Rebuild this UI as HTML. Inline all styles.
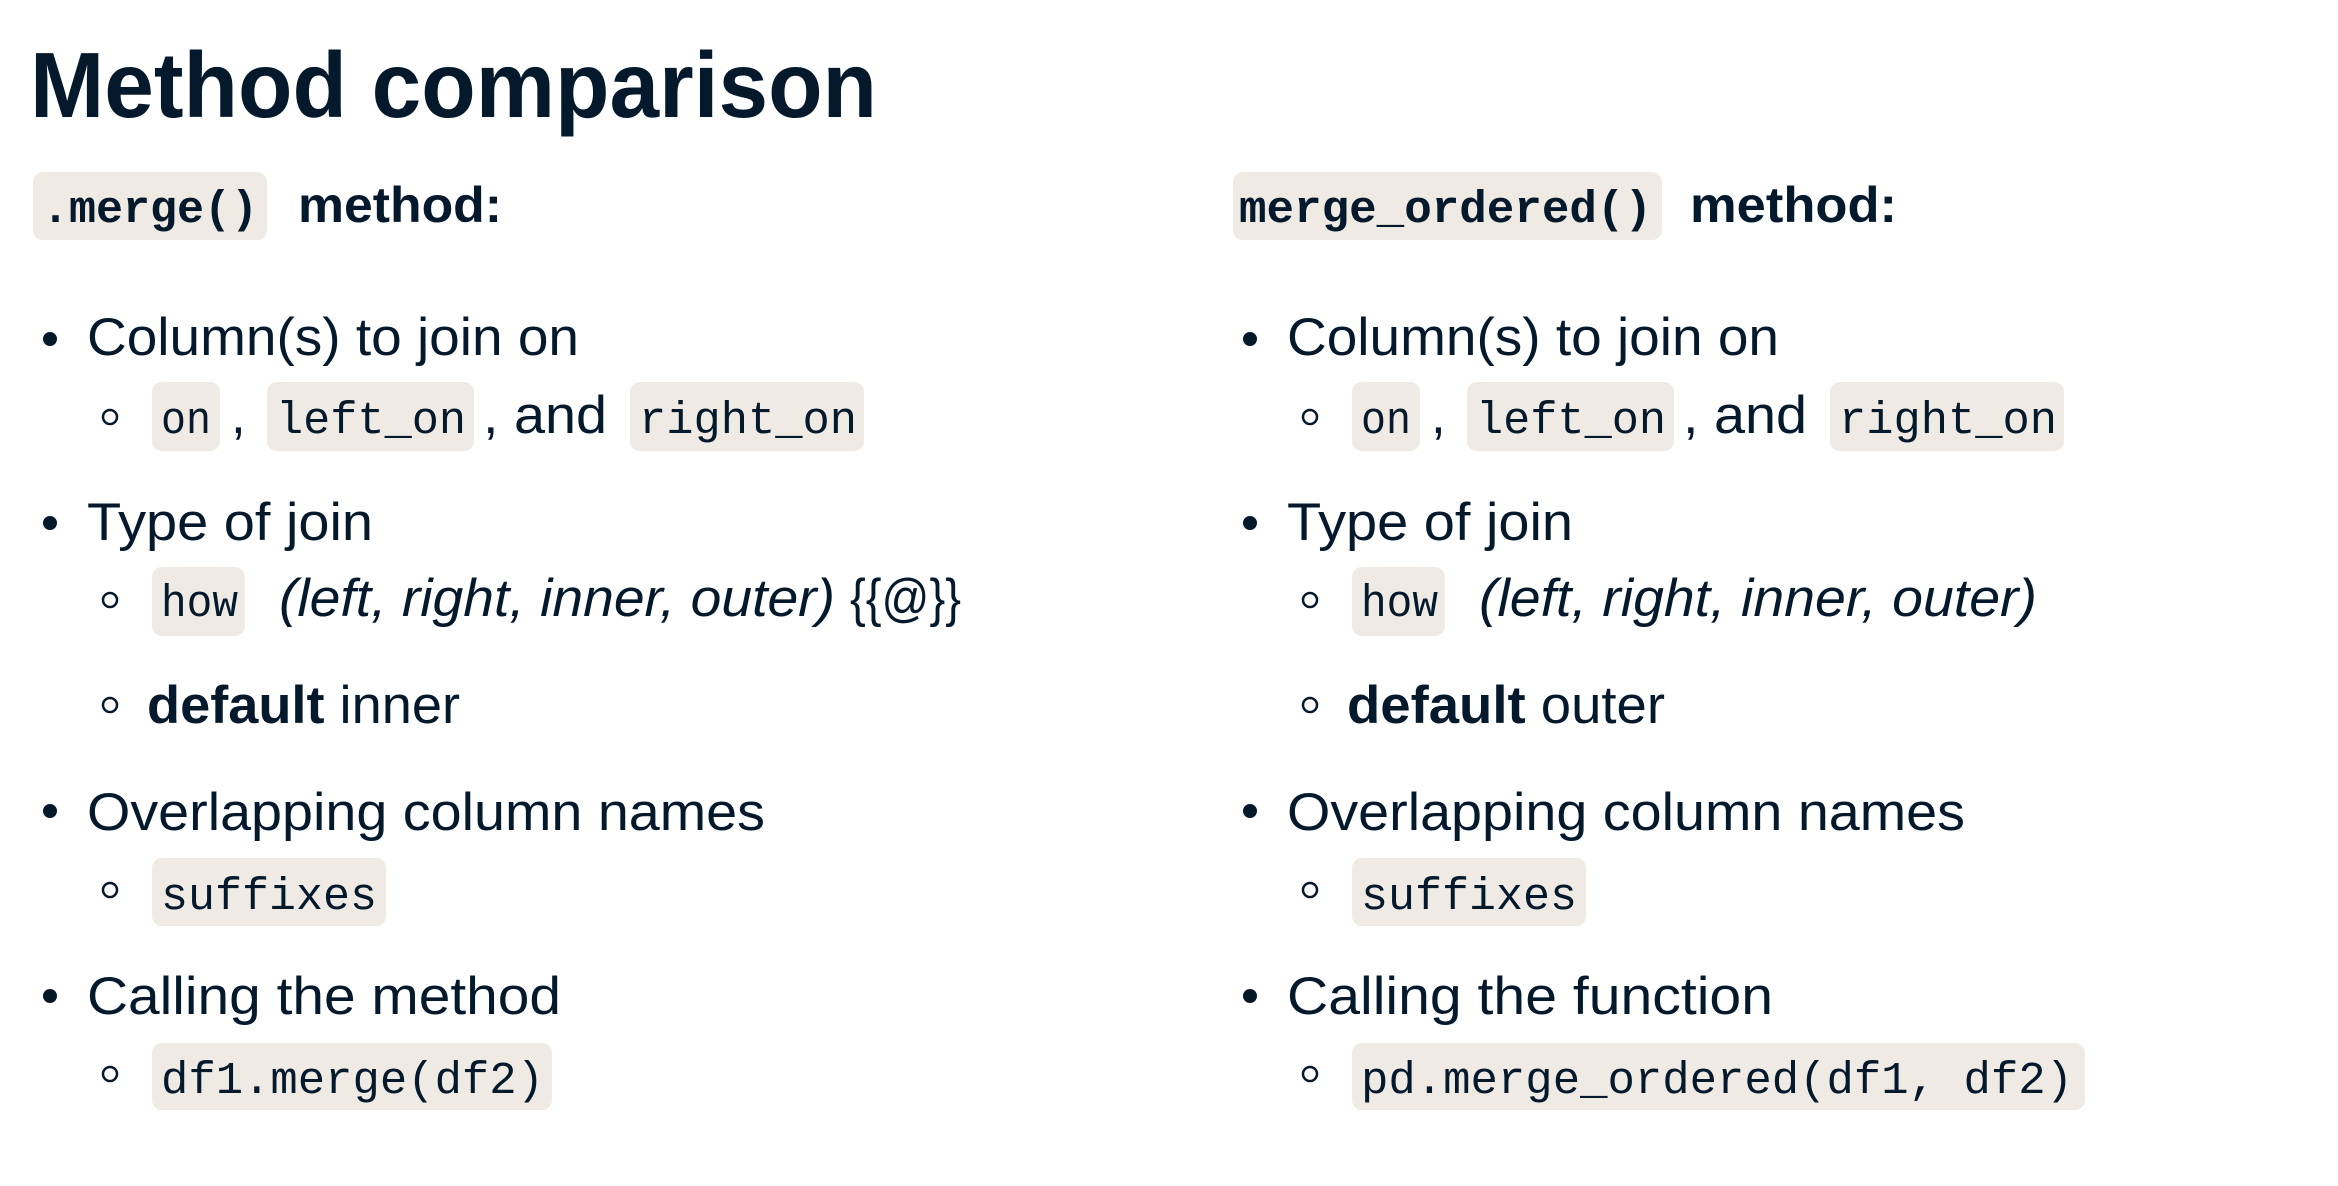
<!DOCTYPE html>
<html><head><meta charset="utf-8"><style>
html,body{margin:0;padding:0;background:#fff;}
svg{display:block}
.t{font-family:"Liberation Sans",sans-serif;fill:#05192d}
.m{font-family:"Liberation Mono",monospace;fill:#05192d}
</style></head><body>
<svg width="2338" height="1186" viewBox="0 0 2338 1186" xmlns="http://www.w3.org/2000/svg">
<rect width="2338" height="1186" fill="#fff"/>
<text class="t" x="30" y="117" font-size="93" font-weight="bold" textLength="847" lengthAdjust="spacingAndGlyphs">Method comparison</text>

<!-- headers -->
<rect x="33" y="172" width="234" height="68" rx="10" fill="#efebe4"/>
<text class="m" x="42" y="222" font-size="45" font-weight="bold" textLength="216" lengthAdjust="spacingAndGlyphs">.merge()</text>
<text class="t" x="298" y="222" font-size="50" font-weight="bold" textLength="204" lengthAdjust="spacingAndGlyphs">method:</text>
<rect x="1233" y="172" width="429" height="68" rx="10" fill="#efebe4"/>
<text class="m" x="1239" y="222" font-size="45" font-weight="bold" textLength="413" lengthAdjust="spacingAndGlyphs">merge_ordered()</text>
<text class="t" x="1690" y="222" font-size="50" font-weight="bold" textLength="207" lengthAdjust="spacingAndGlyphs">method:</text>

<!-- LEFT -->
<g>
<circle cx="50" cy="339" r="7" fill="#05192d"/>
<text class="t" x="87" y="355" font-size="53" textLength="492" lengthAdjust="spacingAndGlyphs">Column(s) to join on</text>
<circle cx="110" cy="417" r="7" fill="none" stroke="#05192d" stroke-width="2.5"/>
<rect x="152" y="382" width="68" height="69" rx="10" fill="#efebe4"/>
<text class="m" x="161" y="433" font-size="45" textLength="50" lengthAdjust="spacingAndGlyphs">on</text>
<text class="t" x="231" y="433" font-size="53">,</text>
<rect x="267" y="382" width="207" height="69" rx="10" fill="#efebe4"/>
<text class="m" x="276" y="433" font-size="45" textLength="190" lengthAdjust="spacingAndGlyphs">left_on</text>
<text class="t" x="483" y="433" font-size="53" textLength="124" lengthAdjust="spacingAndGlyphs">, and</text>
<rect x="630" y="382" width="234" height="69" rx="10" fill="#efebe4"/>
<text class="m" x="639" y="433" font-size="45" textLength="218" lengthAdjust="spacingAndGlyphs">right_on</text>

<circle cx="50" cy="523" r="7" fill="#05192d"/>
<text class="t" x="87" y="540" font-size="53" textLength="286" lengthAdjust="spacingAndGlyphs">Type of join</text>
<circle cx="110" cy="600" r="7" fill="none" stroke="#05192d" stroke-width="2.5"/>
<rect x="152" y="567" width="93" height="69" rx="10" fill="#efebe4"/>
<text class="m" x="161" y="616" font-size="45" textLength="77" lengthAdjust="spacingAndGlyphs">how</text>
<text class="t" x="279" y="616" font-size="53" font-style="italic" textLength="556" lengthAdjust="spacingAndGlyphs">(left, right, inner, outer)</text>
<text class="t" x="850" y="616" font-size="53" textLength="111" lengthAdjust="spacingAndGlyphs">{{@}}</text>

<circle cx="110" cy="705" r="7" fill="none" stroke="#05192d" stroke-width="2.5"/>
<text class="t" x="147" y="723" font-size="53" textLength="313" lengthAdjust="spacingAndGlyphs"><tspan font-weight="bold">default</tspan> inner</text>

<circle cx="50" cy="811" r="7" fill="#05192d"/>
<text class="t" x="87" y="830" font-size="53" textLength="678" lengthAdjust="spacingAndGlyphs">Overlapping column names</text>
<circle cx="110" cy="890" r="7" fill="none" stroke="#05192d" stroke-width="2.5"/>
<rect x="152" y="858" width="234" height="68" rx="10" fill="#efebe4"/>
<text class="m" x="161" y="909" font-size="45" textLength="216" lengthAdjust="spacingAndGlyphs">suffixes</text>

<circle cx="50" cy="996" r="7" fill="#05192d"/>
<text class="t" x="87" y="1014" font-size="53" textLength="474" lengthAdjust="spacingAndGlyphs">Calling the method</text>
<circle cx="110" cy="1074" r="7" fill="none" stroke="#05192d" stroke-width="2.5"/>
<rect x="152" y="1043" width="400" height="67" rx="10" fill="#efebe4"/>
<text class="m" x="161" y="1093" font-size="45" textLength="383" lengthAdjust="spacingAndGlyphs">df1.merge(df2)</text>
</g>

<!-- RIGHT -->
<g transform="translate(1200,0)">
<circle cx="50" cy="339" r="7" fill="#05192d"/>
<text class="t" x="87" y="355" font-size="53" textLength="492" lengthAdjust="spacingAndGlyphs">Column(s) to join on</text>
<circle cx="110" cy="417" r="7" fill="none" stroke="#05192d" stroke-width="2.5"/>
<rect x="152" y="382" width="68" height="69" rx="10" fill="#efebe4"/>
<text class="m" x="161" y="433" font-size="45" textLength="50" lengthAdjust="spacingAndGlyphs">on</text>
<text class="t" x="231" y="433" font-size="53">,</text>
<rect x="267" y="382" width="207" height="69" rx="10" fill="#efebe4"/>
<text class="m" x="276" y="433" font-size="45" textLength="190" lengthAdjust="spacingAndGlyphs">left_on</text>
<text class="t" x="483" y="433" font-size="53" textLength="124" lengthAdjust="spacingAndGlyphs">, and</text>
<rect x="630" y="382" width="234" height="69" rx="10" fill="#efebe4"/>
<text class="m" x="639" y="433" font-size="45" textLength="218" lengthAdjust="spacingAndGlyphs">right_on</text>

<circle cx="50" cy="523" r="7" fill="#05192d"/>
<text class="t" x="87" y="540" font-size="53" textLength="286" lengthAdjust="spacingAndGlyphs">Type of join</text>
<circle cx="110" cy="600" r="7" fill="none" stroke="#05192d" stroke-width="2.5"/>
<rect x="152" y="567" width="93" height="69" rx="10" fill="#efebe4"/>
<text class="m" x="161" y="616" font-size="45" textLength="77" lengthAdjust="spacingAndGlyphs">how</text>
<text class="t" x="279" y="616" font-size="53" font-style="italic" textLength="558" lengthAdjust="spacingAndGlyphs">(left, right, inner, outer)</text>

<circle cx="110" cy="705" r="7" fill="none" stroke="#05192d" stroke-width="2.5"/>
<text class="t" x="147" y="723" font-size="53" textLength="318" lengthAdjust="spacingAndGlyphs"><tspan font-weight="bold">default</tspan> outer</text>

<circle cx="50" cy="811" r="7" fill="#05192d"/>
<text class="t" x="87" y="830" font-size="53" textLength="678" lengthAdjust="spacingAndGlyphs">Overlapping column names</text>
<circle cx="110" cy="890" r="7" fill="none" stroke="#05192d" stroke-width="2.5"/>
<rect x="152" y="858" width="234" height="68" rx="10" fill="#efebe4"/>
<text class="m" x="161" y="909" font-size="45" textLength="216" lengthAdjust="spacingAndGlyphs">suffixes</text>

<circle cx="50" cy="996" r="7" fill="#05192d"/>
<text class="t" x="87" y="1014" font-size="53" textLength="486" lengthAdjust="spacingAndGlyphs">Calling the function</text>
<circle cx="110" cy="1074" r="7" fill="none" stroke="#05192d" stroke-width="2.5"/>
<rect x="152" y="1043" width="733" height="67" rx="10" fill="#efebe4"/>
<text class="m" x="161" y="1093" font-size="45" textLength="712" lengthAdjust="spacingAndGlyphs">pd.merge_ordered(df1, df2)</text>
</g>
</svg>
</body></html>
